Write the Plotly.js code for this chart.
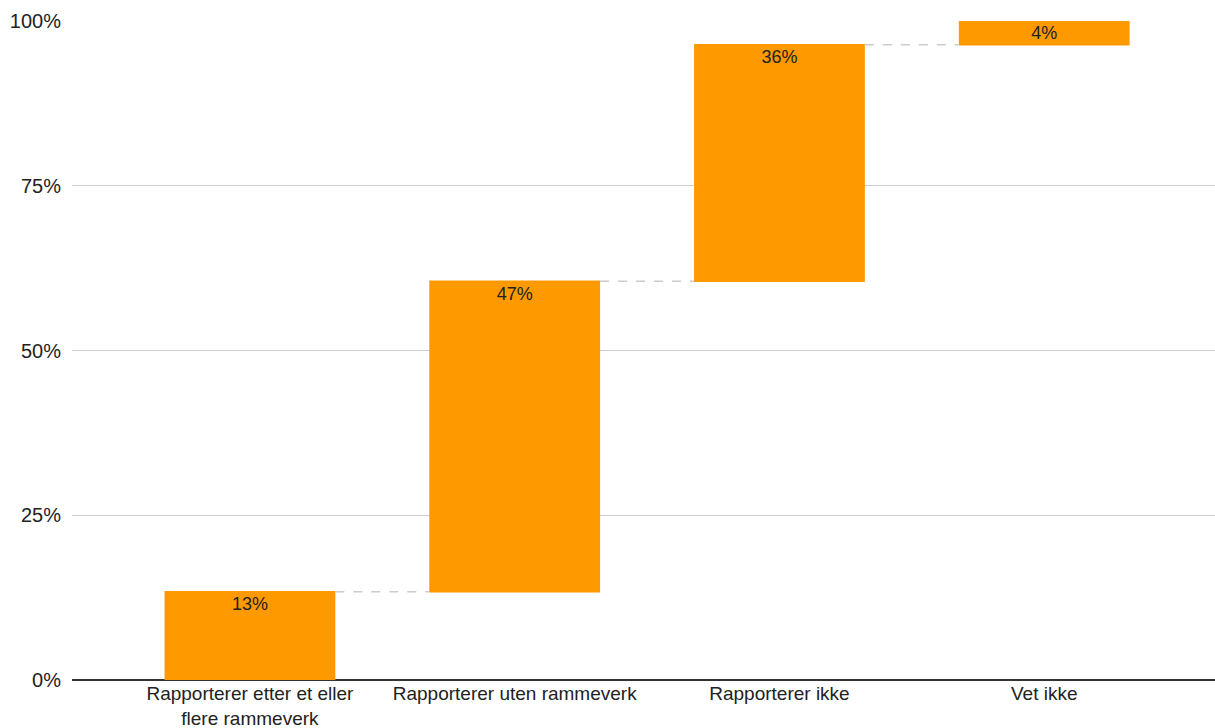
<!DOCTYPE html>
<html><head><meta charset="utf-8">
<script src="https://cdn.plot.ly/plotly-3.0.1.min.js"></script>
<style>html,body{margin:0;padding:0;background:#fff}#chart{width:1215px;height:728px}</style>
</head><body><div id="chart"></div>
<script>
const categories = ["Rapporterer etter et eller<br>flere rammeverk", "Rapporterer uten rammeverk", "Rapporterer ikke", "Vet ikke"];
const values = [13.4, 47.1, 35.9, 3.6];
const valueLabels = ["13%", "47%", "36%", "4%"];
const tickValues = [0, 25, 50, 75, 100];
const tickLabels = ["0%", "25%", "50%", "75%", "100%"];

const trace = {
  type: "waterfall",
  x: categories,
  y: values,
  measure: values.map(() => "relative"),
  text: valueLabels,
  textposition: "inside",
  insidetextanchor: "end",
  constraintext: "none",
  textfont: {family: "Liberation Sans, Arial, sans-serif", size: 18, color: "#222"},
  increasing: {marker: {color: "#FF9900"}},
  decreasing: {marker: {color: "#FF9900"}},
  totals: {marker: {color: "#FF9900"}},
  connector: {mode: "between", line: {color: "#cccccc", width: 1.5, dash: "dash"}},
  width: 0.645,
  hoverinfo: "x+text"
};

const layout = {
  width: 1215, height: 728,
  margin: {l: 72, r: 0, t: 21, b: 48},
  paper_bgcolor: "#fff", plot_bgcolor: "#fff",
  showlegend: false,
  font: {family: "Liberation Sans, Arial, sans-serif", size: 19, color: "#222"},
  xaxis: {
    type: "category",
    range: [-0.672, 3.645],
    showgrid: false, zeroline: false,
    showline: false,
    ticks: "", tickfont: {size: 19, color: "#222"},
    automargin: false
  },
  yaxis: {
    range: [0, 100],
    tickvals: tickValues, ticktext: tickLabels,
    showgrid: true, gridcolor: "#cccccc", gridwidth: 1,
    zeroline: true, zerolinecolor: "#333", zerolinewidth: 1.5,
    tickfont: {size: 20, color: "#222"},
    ticklabelstandoff: 10,
    automargin: false
  }
};

Plotly.newPlot("chart", [trace], layout, {displayModeBar: false, staticPlot: true});
</script>
</body></html>
